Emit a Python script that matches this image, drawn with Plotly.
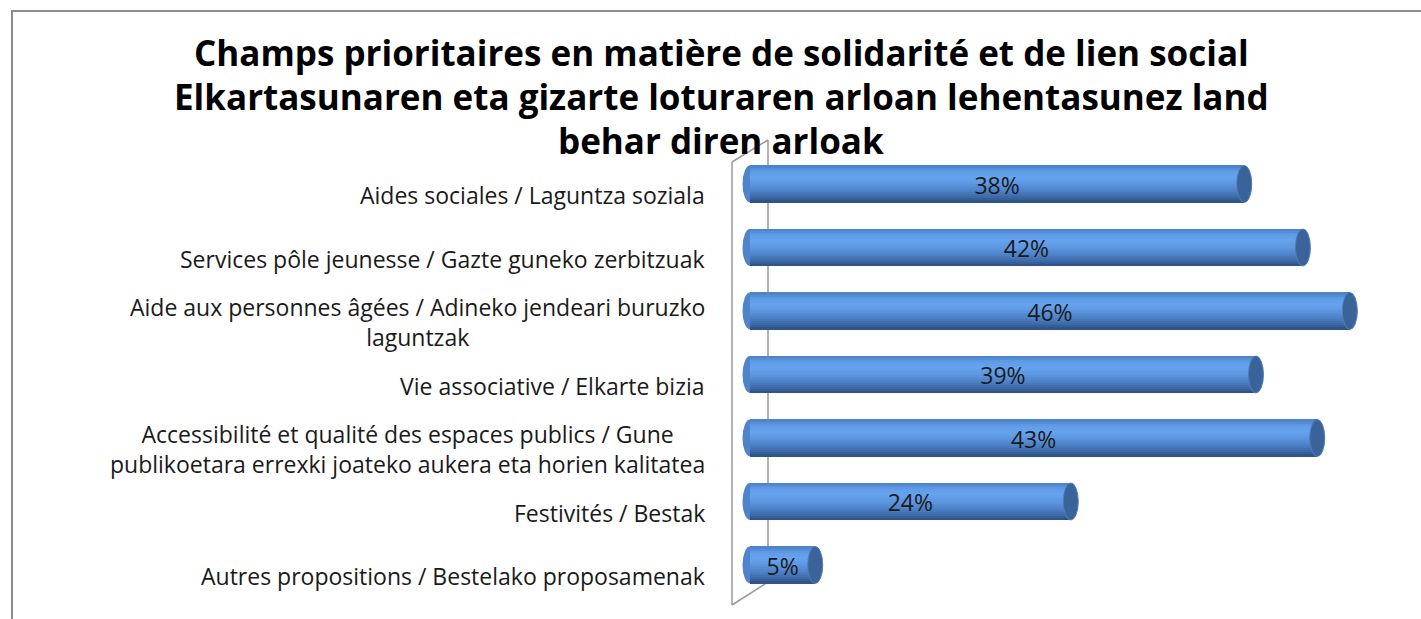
import plotly.graph_objects as go

categories = [
    "Aides sociales / Laguntza soziala",
    "Services pôle jeunesse / Gazte guneko zerbitzuak",
    "Aide aux personnes âgées / Adineko jendeari buruzko<br>laguntzak",
    "Vie associative / Elkarte bizia",
    "Accessibilité et qualité des espaces publics / Gune<br>publikoetara errexki joateko aukera eta horien kalitatea",
    "Festivités / Bestak",
    "Autres propositions / Bestelako proposamenak",
]
# bar lengths (percent)
values = [37.9, 42.4, 46.0, 38.8, 43.5, 24.6, 5.0]
value_labels = ["38%", "42%", "46%", "39%", "43%", "24%", "5%"]
title_lines = [
    "Champs prioritaires en matière de solidarité et de lien social",
    "Elkartasunaren eta gizarte loturaren arloan lehentasunez land",
    "behar diren arloak",
]

W, H = 1421, 619
ML, MR, MT, MB = 732, 21, 140, 14
PW, PH = W - ML - MR, H - MT - MB

def px_x(p):
    return (p - ML) / PW

def px_y(p):
    return 1 - (p - MT) / PH

positions = list(range(len(categories)))
BAR_W = 0.583
X_RANGE = [-1.38, -1.38 + PW / 13.04]
Y_RANGE = [6.63, -0.693]
cap_half = 7.5 / 13.04
LABEL_DY = 11 / 63.5
VALUE_DY = 4 / 63.5

# gradient profile top -> bottom
stops = [
    (0.0, (74, 127, 196)),
    (0.15, (95, 154, 230)),
    (0.32, (102, 164, 240)),
    (0.5, (92, 150, 224)),
    (0.7, (76, 128, 198)),
    (0.86, (61, 106, 166)),
    (1.0, (44, 79, 128)),
]

def grad(t):
    for (t0, c0), (t1, c1) in zip(stops[:-1], stops[1:]):
        if t0 <= t <= t1:
            f = (t - t0) / (t1 - t0) if t1 > t0 else 0
            c = [round(a + (b - a) * f) for a, b in zip(c0, c1)]
            return "rgb(%d,%d,%d)" % tuple(c)
    return "rgb(%d,%d,%d)" % stops[-1][1]

FONT = "Open Sans"

fig = go.Figure()
N = 18
dh = BAR_W / N
for k in range(N):
    t = (k + 0.5) / N
    fig.add_trace(go.Bar(
        x=values, y=positions, orientation="h",
        offset=-BAR_W / 2 + k * dh, width=dh * 1.08,
        marker=dict(color=grad(t), line=dict(width=0)),
        hoverinfo="skip", showlegend=False,
    ))

fig.add_trace(go.Scatter(
    x=[v / 2 for v in values], y=[p + VALUE_DY for p in positions], mode="text",
    text=value_labels, textposition="middle center",
    textfont=dict(family=FONT, size=23, color="#1a1a1a"),
    hoverinfo="skip", showlegend=False,
))

shapes = []
# outer border
shapes.append(dict(type="rect", xref="paper", yref="paper",
                   x0=px_x(12), x1=px_x(1440), y0=px_y(11), y1=px_y(640),
                   line=dict(color="#8c8c8c", width=2), fillcolor="rgba(0,0,0,0)", layer="below"))
# axis wall
wall = "#9a9a9a"
for (a, b, c, d) in [(732, 162, 732, 605), (732, 162, 768, 140), (768, 140, 768, 582), (732, 605, 768, 582)]:
    shapes.append(dict(type="line", xref="paper", yref="paper",
                       x0=px_x(a), y0=px_y(b), x1=px_x(c), y1=px_y(d),
                       line=dict(color=wall, width=1.5), layer="below"))
# left caps (below) and right caps (above)
for p, v in zip(positions, values):
    shapes.append(dict(type="circle", xref="x", yref="y",
                       x0=-cap_half, x1=cap_half, y0=p - BAR_W / 2, y1=p + BAR_W / 2,
                       fillcolor="rgb(80,132,202)", line=dict(width=0), layer="below"))
    shapes.append(dict(type="circle", xref="x", yref="y",
                       x0=v - cap_half, x1=v + cap_half, y0=p - BAR_W / 2, y1=p + BAR_W / 2,
                       fillcolor="rgb(58,99,153)", line=dict(color="rgb(80,125,185)", width=1), layer="above"))

annotations = []
for p, c in zip(positions, categories):
    annotations.append(dict(xref="paper", yref="y", x=px_x(707), y=p + LABEL_DY,
                            text=c, showarrow=False, xanchor="right", yanchor="middle",
                            align="center", font=dict(family=FONT, size=23, color="#1a1a1a")))
for line, yc in zip(title_lines, [52, 97, 140]):
    annotations.append(dict(xref="paper", yref="paper", x=px_x(721), y=px_y(yc),
                            text=line, showarrow=False,
                            xanchor="center", yanchor="middle", align="center",
                            font=dict(family=FONT, size=35, color="#000000", weight="bold")))

fig.update_layout(
    width=W, height=H,
    margin=dict(l=ML, r=MR, t=MT, b=MB, autoexpand=False),
    paper_bgcolor="white", plot_bgcolor="white",
    barmode="overlay", bargap=0,
    xaxis=dict(range=X_RANGE, visible=False, fixedrange=True),
    yaxis=dict(range=Y_RANGE, visible=False, fixedrange=True),
    shapes=shapes, annotations=annotations,
    showlegend=False,
)

fig.write_html("out.html", config={"displayModeBar": False},
               post_script="document.body.style.margin='0px';")
